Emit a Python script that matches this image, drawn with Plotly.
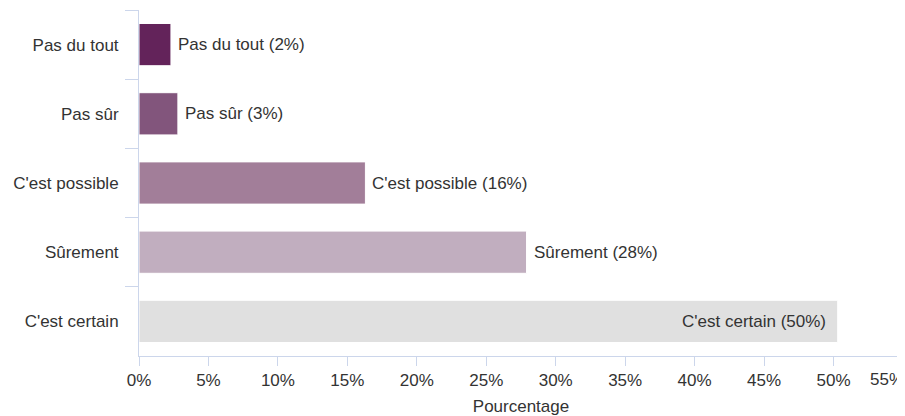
import plotly.graph_objects as go

categories = ["Pas du tout", "Pas sûr", "C'est possible", "Sûrement", "C'est certain"]
values = [2.3, 2.8, 16.3, 27.9, 50.3]
label_pct = [2, 3, 16, 28, 50]
colors = ["#63235a", "#82557c", "#a27e99", "#c1aebf", "#e0e0e0"]
x_tick_vals = [0, 5, 10, 15, 20, 25, 30, 35, 40, 45, 50, 55]
x_tick_text = ["0%", "5%", "10%", "15%", "20%", "25%", "30%", "35%", "40%", "45%", "50%", ""]

FONT = "Liberation Sans, Arial, sans-serif"
TXT = "#333333"
AXC = "#ccd6eb"

fig = go.Figure()
fig.add_trace(go.Bar(
    x=values, y=categories, orientation="h",
    marker=dict(color=colors, line=dict(color="white", width=1)),
    hoverinfo="skip",
))

annotations = []
for cat, v, p in zip(categories, values, label_pct):
    txt = f"{cat} ({p}%)"
    if v > 40:
        annotations.append(dict(x=v, y=cat, xref="x", yref="y", text=txt, showarrow=False,
                                xanchor="right", xshift=-10, font=dict(family=FONT, size=17, color=TXT)))
    else:
        annotations.append(dict(x=v, y=cat, xref="x", yref="y", text=txt, showarrow=False,
                                xanchor="left", xshift=5, font=dict(family=FONT, size=17, color=TXT)))
annotations.append(dict(x=1, y=0, xref="paper", yref="paper", text="55%", showarrow=False,
                        xanchor="right", yanchor="top", yshift=-12, xshift=3,
                        font=dict(family=FONT, size=17, color=TXT)))

fig.update_layout(
    width=897, height=408,
    margin=dict(l=130.5, r=2, t=2, b=60, autoexpand=False),
    paper_bgcolor="white", plot_bgcolor="white",
    font=dict(family=FONT, size=17, color=TXT),
    showlegend=False,
    bargap=0.39,
    annotations=annotations,
    xaxis=dict(
        range=[0, 55], tickvals=x_tick_vals, ticktext=x_tick_text,
        showgrid=False, zeroline=False, showline=True, linecolor=AXC, linewidth=1,
        ticks="outside", ticklen=9, tickcolor=AXC, tickwidth=1, automargin=False,
        tickfont=dict(family=FONT, size=17, color=TXT),
        title=dict(text="Pourcentage", font=dict(family=FONT, size=17, color=TXT), standoff=11),
    ),
    yaxis=dict(
        type="category", categoryorder="array", categoryarray=categories,
        autorange="reversed", automargin=False,
        showgrid=False, zeroline=False, showline=True, linecolor=AXC, linewidth=1,
        ticks="outside", ticklen=13, tickcolor=AXC, tickwidth=1, tickson="boundaries",
        ticklabelstandoff=16,
        tickfont=dict(family=FONT, size=17, color=TXT),
    ),
)

fig.write_html("out.html")
